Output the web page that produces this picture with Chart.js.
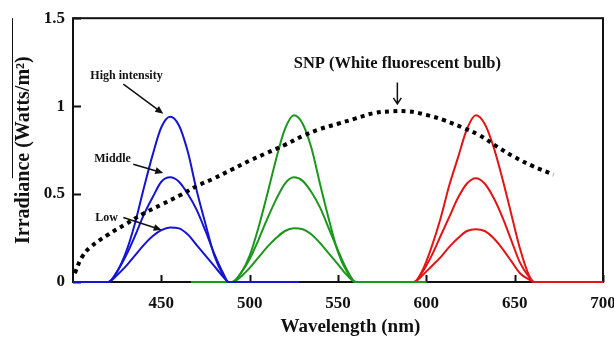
<!DOCTYPE html>
<html>
<head>
<meta charset="utf-8">
<script src="https://cdn.jsdelivr.net/npm/chart.js@4.4.0/dist/chart.umd.min.js"></script>
<style>
  html, body { margin: 0; padding: 0; background: #fff; }
  #wrap { width: 614px; height: 338px; }
</style>
</head>
<body>
<div id="wrap"><canvas id="spectrum-chart"></canvas></div>
<script>
// Wavelength grids (nm) and irradiance values (W/m2)
const blueNm   = [400, 420, 425, 430, 435, 440, 445, 450, 455, 460, 465, 470, 475, 480, 485, 488, 495, 510, 528];
const blueHigh = [0, 0, 0.06, 0.17, 0.33, 0.53, 0.72, 0.88, 0.94, 0.89, 0.74, 0.52, 0.33, 0.15, 0.04, 0, 0, 0, 0];
const blueMid  = [0, 0, 0.06, 0.15, 0.26, 0.38, 0.48, 0.57, 0.595, 0.57, 0.50, 0.41, 0.29, 0.16, 0.05, 0, 0, 0, 0];
const blueLow  = [0, 0, 0.04, 0.09, 0.15, 0.21, 0.26, 0.295, 0.31, 0.305, 0.27, 0.21, 0.15, 0.09, 0.03, 0, 0, 0, 0];

const greenNm   = [467, 490, 495, 500, 505, 510, 515, 520, 525, 530, 535, 540, 545, 550, 555, 560, 600];
const greenHigh = [0, 0, 0.05, 0.15, 0.31, 0.50, 0.70, 0.87, 0.948, 0.90, 0.76, 0.55, 0.35, 0.17, 0.06, 0, 0];
const greenMid  = [0, 0, 0.05, 0.13, 0.24, 0.36, 0.47, 0.56, 0.595, 0.575, 0.51, 0.42, 0.30, 0.18, 0.07, 0, 0];
const greenLow  = [0, 0, 0.03, 0.08, 0.14, 0.20, 0.25, 0.29, 0.305, 0.30, 0.27, 0.22, 0.16, 0.10, 0.04, 0, 0];

const redNm   = [573, 593, 598, 603, 608, 613, 618, 623, 628, 633, 638, 643, 648, 653, 658, 661, 700];
const redHigh = [0, 0, 0.07, 0.20, 0.36, 0.55, 0.71, 0.87, 0.948, 0.90, 0.77, 0.59, 0.39, 0.19, 0.04, 0, 0];
const redMid  = [0, 0, 0.06, 0.15, 0.26, 0.37, 0.48, 0.56, 0.59, 0.56, 0.48, 0.37, 0.24, 0.11, 0.03, 0, 0];
const redLow  = [0, 0, 0.04, 0.09, 0.14, 0.20, 0.25, 0.29, 0.30, 0.29, 0.25, 0.19, 0.12, 0.05, 0.015, 0, 0];

// SNP (white fluorescent bulb), dotted curve
const snpNm  = [401, 405, 410, 420, 430, 440, 450, 460, 470, 480, 490, 500, 510, 520, 530, 540, 550, 560, 570, 580, 590, 600, 610, 620, 630, 640, 650, 660, 672];
const snpVal = [0.05, 0.14, 0.20, 0.27, 0.33, 0.39, 0.44, 0.49, 0.545, 0.59, 0.64, 0.69, 0.735, 0.78, 0.83, 0.87, 0.90, 0.93, 0.96, 0.97, 0.97, 0.95, 0.92, 0.88, 0.835, 0.77, 0.71, 0.66, 0.61];

const xTicks = [450, 500, 550, 600, 650, 700];
const yTicks = [0, 0.5, 1, 1.5];

const serif = '"Liberation Serif", "Times New Roman", serif';
const BLUE = '#1414d2';
const GREEN = '#1c961c';
const RED = '#e31414';

function pts(xs, ys) {
    return xs.map((x, i) => ({ x: x, y: ys[i] }));
}

function curve(xs, ys, color) {
    return {
        data: pts(xs, ys),
        borderColor: color,
        borderWidth: 2,
        pointRadius: 0,
        cubicInterpolationMode: 'monotone',
        clip: 3
    };
}

// annotation labels, placed in data units
const notes = [
    { text: 'High intensity', at: [430.3, 1.174], from: [428.5, 1.125], to: [451.1, 0.957] },
    { text: 'Middle', at: [422.4, 0.702], from: [434.1, 0.67], to: [451.1, 0.62] },
    { text: 'Low', at: [419, 0.362], from: [428.5, 0.367], to: [450.2, 0.296] }
];

// box frame and inward tick marks
const framePlugin = {
    id: 'frame',
    beforeDatasetsDraw(chart) {
        const { ctx, chartArea: a, scales: { x, y } } = chart;
        ctx.save();
        ctx.strokeStyle = '#111';
        ctx.lineWidth = 2;
        ctx.strokeRect(a.left, a.top, a.right - a.left, a.bottom - a.top);
        ctx.beginPath();
        xTicks.forEach(v => {
            const px = Math.round(x.getPixelForValue(v)) + 0.5;
            ctx.moveTo(px, a.bottom);
            ctx.lineTo(px, a.bottom - 7);
        });
        yTicks.forEach(v => {
            const py = Math.round(y.getPixelForValue(v)) + 0.5;
            ctx.moveTo(a.left, py);
            ctx.lineTo(a.left + 8, py);
        });
        ctx.stroke();
        // thin stray line left of the axis title in the original
        ctx.lineWidth = 1;
        ctx.beginPath();
        ctx.moveTo(12.5, a.top);
        ctx.lineTo(12.5, y.getPixelForValue(0.59));
        ctx.stroke();
        ctx.restore();
    }
};

function arrow(ctx, x0, y0, x1, y1) {
    const ang = Math.atan2(y1 - y0, x1 - x0);
    const len = 8, half = 3.5;
    ctx.beginPath();
    ctx.moveTo(x0, y0);
    ctx.lineTo(x1 - Math.cos(ang) * len * 0.8, y1 - Math.sin(ang) * len * 0.8);
    ctx.stroke();
    ctx.beginPath();
    ctx.moveTo(x1, y1);
    ctx.lineTo(x1 - Math.cos(ang) * len - Math.sin(ang) * half, y1 - Math.sin(ang) * len + Math.cos(ang) * half);
    ctx.lineTo(x1 - Math.cos(ang) * len + Math.sin(ang) * half, y1 - Math.sin(ang) * len - Math.cos(ang) * half);
    ctx.closePath();
    ctx.fill();
}

const notesPlugin = {
    id: 'notes',
    afterDatasetsDraw(chart) {
        const { ctx, chartArea: a, scales: { x, y } } = chart;
        ctx.save();
        ctx.fillStyle = '#111';
        ctx.strokeStyle = '#111';
        ctx.lineWidth = 1.5;
        ctx.textAlign = 'center';
        ctx.textBaseline = 'middle';
        ctx.font = 'bold 12px ' + serif;
        notes.forEach(n => {
            ctx.fillText(n.text, x.getPixelForValue(n.at[0]), y.getPixelForValue(n.at[1]));
            arrow(ctx, x.getPixelForValue(n.from[0]), y.getPixelForValue(n.from[1]),
                       x.getPixelForValue(n.to[0]), y.getPixelForValue(n.to[1]));
        });
        // SNP label with open down arrow
        ctx.font = 'bold 16.5px ' + serif;
        const sx = x.getPixelForValue(583.6);
        ctx.fillText('SNP (White fluorescent bulb)', sx, y.getPixelForValue(1.242));
        const top = y.getPixelForValue(1.135), tip = y.getPixelForValue(1.013);
        ctx.beginPath();
        ctx.moveTo(sx, top);
        ctx.lineTo(sx, tip);
        ctx.moveTo(sx - 4, tip - 6);
        ctx.lineTo(sx, tip);
        ctx.lineTo(sx + 4, tip - 6);
        ctx.stroke();
        // x axis title, sits right of centre in the original
        ctx.font = 'bold 19px ' + serif;
        ctx.fillText('Wavelength (nm)', x.getPixelForValue(557), a.bottom + 45);
        ctx.restore();
    }
};

const snpSet = {
    data: pts(snpNm, snpVal),
    borderColor: '#000',
    borderWidth: 4,
    borderDash: [4, 4.3],
    borderCapStyle: 'butt',
    pointRadius: 0,
    tension: 0.4,
    clip: 3
};

const ctx = document.getElementById('spectrum-chart').getContext('2d');
new Chart(ctx, {
    type: 'line',
    data: {
        datasets: [
            snpSet,
            curve(blueNm, blueHigh, BLUE), curve(blueNm, blueMid, BLUE), curve(blueNm, blueLow, BLUE),
            curve(greenNm, greenHigh, GREEN), curve(greenNm, greenMid, GREEN), curve(greenNm, greenLow, GREEN),
            curve(redNm, redHigh, RED), curve(redNm, redMid, RED), curve(redNm, redLow, RED)
        ]
    },
    options: {
        responsive: true,
        maintainAspectRatio: false,
        animation: false,
        layout: { padding: { left: 0, right: 11, top: 15, bottom: 0 } },
        plugins: { legend: { display: false }, tooltip: { enabled: false } },
        scales: {
            x: {
                type: 'linear',
                min: 400,
                max: 700,
                grid: { display: false, drawTicks: false },
                border: { display: false },
                afterBuildTicks: s => { s.ticks = xTicks.map(v => ({ value: v })); },
                afterFit: s => { s.height = 56; s.paddingLeft = 0; s.paddingRight = 0; },
                ticks: {
                    color: '#111',
                    padding: 11,
                    maxRotation: 0,
                    autoSkip: false,
                    callback: v => String(v),
                    font: { family: serif, size: 17, weight: 'bold' }
                },
                title: { display: false }
            },
            y: {
                min: 0,
                max: 1.5,
                grid: { display: false, drawTicks: false },
                border: { display: false },
                afterBuildTicks: s => { s.ticks = yTicks.map(v => ({ value: v })); },
                afterFit: s => { s.width = 73; },
                ticks: {
                    color: '#111',
                    padding: 8,
                    callback: v => String(v),
                    font: { family: serif, size: 17, weight: 'bold' }
                },
                title: {
                    display: true,
                    text: 'Irradiance (Watts/m²)',
                    color: '#111',
                    align: 'center',
                    padding: { top: 12, bottom: 0 },
                    font: { family: serif, size: 20, weight: 'bold' }
                }
            }
        }
    },
    plugins: [framePlugin, notesPlugin]
});
</script>
</body>
</html>
